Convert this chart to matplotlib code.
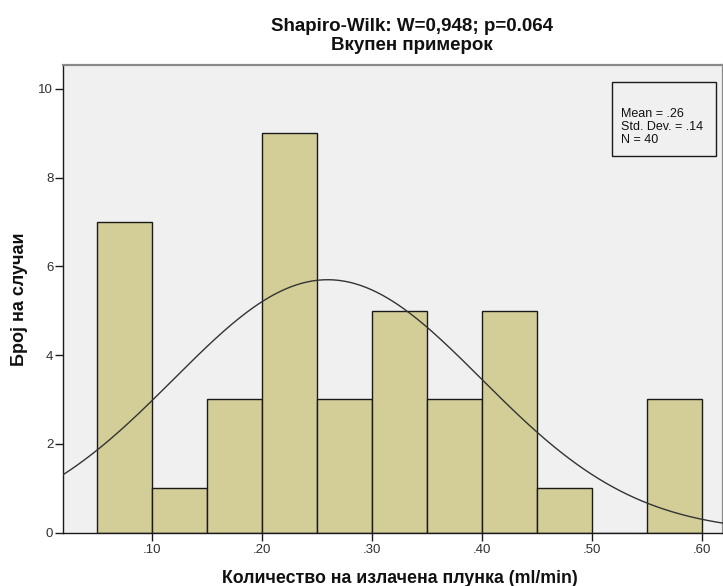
import numpy as np
import matplotlib
matplotlib.use("Agg")
import matplotlib.pyplot as plt
from matplotlib.patches import Rectangle

bin_edges = [0.05, 0.10, 0.15, 0.20, 0.25, 0.30, 0.35, 0.40, 0.45, 0.50, 0.55, 0.60]
counts = [7, 1, 3, 9, 3, 5, 3, 5, 1, 0, 3]
mean, sd, n = 0.26, 0.14, 40
xticks = [0.10, 0.20, 0.30, 0.40, 0.50, 0.60]
xticklabels = [".10", ".20", ".30", ".40", ".50", ".60"]
yticks = [0, 2, 4, 6, 8, 10]
title_lines = ['Shapiro-Wilk: W=0,948; p=0.064', 'Вкупен примерок']
stats_lines = ['Mean = .26', 'Std. Dev. = .14', 'N = 40']

plt.rcParams['font.family'] = ['Liberation Sans', 'DejaVu Sans']

W, H = 723, 586
fig = plt.figure(figsize=(W / 100, H / 100), dpi=100)

def fx(px):
    return px / W

def fy(py):
    return 1 - py / H

ax_l, ax_r, ax_t, ax_b = 63, 723, 65, 532.5
ax = fig.add_axes([fx(ax_l), fy(ax_b), fx(ax_r - ax_l), (ax_b - ax_t) / H])
ax.set_facecolor('#F0F0F0')

edges = np.array(bin_edges)
widths = np.diff(edges)
ax.bar(edges[:-1], counts, width=widths, align='edge', color='#D3CE97',
       edgecolor='#1A1A1A', linewidth=1.0, zorder=2)

xs = np.linspace(0.0, 0.65, 400)
binw = widths[0]
ys = n * binw / (sd * np.sqrt(2 * np.pi)) * np.exp(-0.5 * ((xs - mean) / sd) ** 2)
ax.plot(xs, ys, color='#333333', linewidth=1.0, zorder=3)

ax.set_xlim(0.0194, 0.6194)
ax.set_ylim(0, 10.54)
ax.set_xticks(xticks)
ax.set_xticklabels(xticklabels)
ax.set_yticks(yticks)
ax.set_yticklabels([str(v) for v in yticks])
ax.tick_params(axis='x', direction='out', length=6, width=1, labelsize=9.5,
               colors='#1A1A1A', labelcolor='#303030', pad=2)
ax.tick_params(axis='y', direction='out', length=6, width=1, labelsize=9.5,
               colors='#1A1A1A', labelcolor='#303030', pad=1)

for s in ['top', 'right']:
    ax.spines[s].set_color('#8A8A8A')
    ax.spines[s].set_linewidth(1.6)
for s in ['left', 'bottom']:
    ax.spines[s].set_color('#1A1A1A')
    ax.spines[s].set_linewidth(1.0)

# axis labels
fig.text(fx(400), fy(583), 'Количество на излачена плунка (ml/min)', ha='center',
         va='baseline', fontsize=12.8, fontweight='bold', color='#111111')
fig.text(fx(20), fy(299), 'Број на случаи', ha='center', va='center', rotation=90,
         fontsize=13, fontweight='bold', color='#111111')

# title
fig.text(fx(412), fy(31), title_lines[0], ha='center', va='baseline',
         fontsize=13.5, fontweight='bold', color='#111111')
fig.text(fx(412), fy(50), title_lines[1], ha='center', va='baseline',
         fontsize=13.5, fontweight='bold', color='#111111')

# stats box
box_l, box_r, box_t, box_b = 612, 716, 82, 156
fig.patches.append(Rectangle((fx(box_l), fy(box_b)), fx(box_r - box_l), (box_b - box_t) / H,
                             transform=fig.transFigure, facecolor='none',
                             edgecolor='#1A1A1A', linewidth=1.0, zorder=5))
for i, line in enumerate(stats_lines):
    fig.text(fx(621), fy(116.7 + 13.3 * i), line, ha='left', va='baseline',
             fontsize=9, color='#111111')

fig.savefig('out.png', dpi=100)
